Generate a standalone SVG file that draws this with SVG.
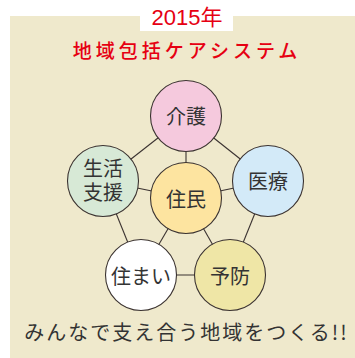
<svg xmlns="http://www.w3.org/2000/svg" width="355" height="358" viewBox="0 0 355 358">
<style>
.bg{fill:#efe9cc}
.n{stroke:#3b3331;stroke-width:1.1}
.t{font-family:"Noto Sans CJK JP","Noto Sans CJK SC",sans-serif;font-size:20px;fill:#333;text-anchor:middle}
.red{fill:#e60012}
.c{stroke:#3b3331;stroke-width:1.1;fill:none}
</style>
<rect class="bg" x="10" y="16" width="345" height="342"/>
<rect x="140" y="10" width="93" height="21" fill="#fff"/>
<text x="187" y="25" font-family="Liberation Sans,Noto Sans CJK JP,sans-serif" font-size="22" class="red" text-anchor="middle">2015年</text>
<text x="187" y="58" class="red" font-family="Noto Sans CJK JP,sans-serif" font-size="19" font-weight="500" letter-spacing="4" text-anchor="middle">地域包括ケアシステム</text>
<g id="connectors">
<line class="c" x1="186" y1="116" x2="103" y2="181"/>
<line class="c" x1="186" y1="116" x2="268" y2="181"/>
<line class="c" x1="103" y1="181" x2="141" y2="275"/>
<line class="c" x1="268" y1="181" x2="230" y2="275"/>
<line class="c" x1="141" y1="275" x2="230" y2="275"/>
<line class="c" x1="186" y1="198" x2="186" y2="116"/>
<line class="c" x1="186" y1="198" x2="103" y2="181"/>
<line class="c" x1="186" y1="198" x2="268" y2="181"/>
<line class="c" x1="186" y1="198" x2="141" y2="275"/>
<line class="c" x1="186" y1="198" x2="230" y2="275"/>
</g>
<g id="kaigo"><circle class="n" cx="186" cy="116" r="35.5" fill="#f5c9dd"/><text class="t" x="186" y="123.5">介護</text></g>
<g id="seikatsu"><circle class="n" cx="103" cy="181" r="35.5" fill="#d7e9d6"/><text class="t"><tspan x="103" y="176">生活</tspan><tspan x="103" y="199.5">支援</tspan></text></g>
<g id="iryou"><circle class="n" cx="268" cy="181" r="35.5" fill="#d3eaf8"/><text class="t" x="268" y="189">医療</text></g>
<g id="jumin"><circle class="n" cx="186" cy="198" r="35.5" fill="#fde4a0"/><text class="t" x="186" y="206.5">住民</text></g>
<g id="sumai"><circle class="n" cx="141" cy="275" r="35.5" fill="#ffffff"/><text class="t" x="141" y="283.5">住まい</text></g>
<g id="yobou"><circle class="n" cx="230" cy="275" r="35.5" fill="#efe6a6"/><text class="t" x="230" y="283.5">予防</text></g>
<text class="t" x="186.5" y="340" letter-spacing="2">みんなで支え合う地域をつくる!!</text>
</svg>
